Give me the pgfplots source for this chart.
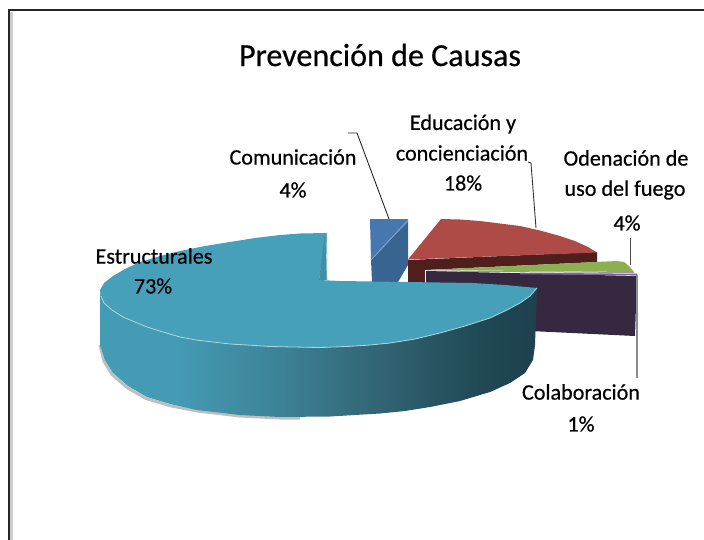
\documentclass[border=0pt]{standalone}
\usepackage{pgfplots}
\pgfplotsset{compat=1.18}
\usepackage{fontspec}
\setmainfont[FakeBold=0.5]{Carlito}
\definecolor{tealtop}{RGB}{70,160,185}
\definecolor{wallA}{RGB}{68,155,180}
\definecolor{wallB}{RGB}{60,130,150}
\definecolor{wallC}{RGB}{50,100,115}
\definecolor{wallD}{RGB}{32,72,85}
\definecolor{wallE}{RGB}{30,65,78}
\definecolor{blueA}{RGB}{70,120,175}
\definecolor{blueB}{RGB}{55,100,145}
\definecolor{blueL}{RGB}{130,165,205}
\definecolor{redA}{RGB}{175,75,70}
\definecolor{redB}{RGB}{80,30,28}
\definecolor{greenA}{RGB}{140,175,80}
\definecolor{purA}{RGB}{125,95,155}
\definecolor{purB}{RGB}{55,40,65}
\definecolor{hl}{RGB}{170,215,225}
\pgfdeclarehorizontalshading{wall}{100bp}{color(0bp)=(wallA); color(25bp)=(wallA); color(33.6bp)=(wallA); color(45.6bp)=(wallB); color(57bp)=(wallC); color(68.5bp)=(wallD); color(75bp)=(wallE); color(100bp)=(wallE)}
\newcommand{\lab}{\fontsize{22.2}{22.2}\selectfont}
\begin{document}
\begin{tikzpicture}
\path[use as bounding box] (0,0) rectangle (704bp,540bp);
\begin{axis}[at={(0,0)}, anchor=south west, scale only axis, width=704bp, height=540bp,
  xmin=0, xmax=704, ymin=0, ymax=540, y dir=reverse, axis lines=none, clip=true]
% frame
\addplot[draw=black!20, line width=2.5bp] coordinates {(11.5,12) (11.5,540)};
\addplot[draw=black!85, line width=2bp] coordinates {(9.3,540) (9.3,9.5) (704,9.5)};
% communication slice
\addplot[draw=none, fill=blueA] coordinates {(370,219) (408,219) (408,222) (371,260)};
\addplot[draw=none, fill=blueB] coordinates {(371,260) (408,222) (408,265) (398,282) (372,282)};
\addplot[draw=blueL, line width=0.8bp] coordinates {(371,260) (408,220)};
% education slice
\addplot[draw=none, fill=redB] coordinates {(408,260) (597,252) (597,262) (425,270) (425,284) (408,284)};
\addplot[draw=none, fill=redA] coordinates {(441,219) (460,219.5) (480,221) (500,223.5) (520,226) (540,230.5) (560,236) (575,241) (588,247) (597,252.5) (408,259.5)};
% fire use slice
\addplot[draw=none, fill=greenA] coordinates {(426,270) (617,261) (624,262) (629,266) (634,272)};
\addplot[draw=black!40, line width=1bp] coordinates {(426,271) (634,272.5)};
% collaboration slice
\addplot[draw=none, fill=purB] coordinates {(426,271) (637,276) (635,336) (530,331) (426,328)};
\addplot[draw=purA, line width=1.6bp] coordinates {(520,273.5) (637,274.5)};
\addplot[draw=white, line width=1bp] coordinates {(425.5,270) (425.5,284)};
% shadow of main slice
\addplot[draw=black!25, line width=3bp] coordinates {(100,345) (104,361) (112,374.5) (127,387.5) (146,398.5) (169,405.5) (197,411) (240,416) (280,418) (300,418)};
% main slice wall
\addplot[draw=none, shading=wall] coordinates {(100,290) (101,296) (104,303) (112,310) (123,317) (135,322) (147,327) (163,332) (180,337) (196,340) (213,342) (230,344) (247,345) (270,346.5) (293,347) (320,347.5) (347,346.5) (370,345) (390,343) (415,339) (440,333) (465,326) (490,318) (507,310) (520,303) (530,296) (537,288) (535,345) (533,360) (525,373) (510,383) (490,392) (460,401) (430,407) (405,411) (380,413.5) (330,416.5) (280,417) (240,415) (197,410) (170,404) (147,397) (128,386) (113,373) (105,360) (100,345)};
% main slice top
\addplot[draw=none, fill=tealtop] coordinates {(326,233) (300,233.5) (280,235) (255,238) (230,242) (205,246) (180,251) (160,256) (140,262) (125,269) (113,276) (104,283) (100,290) (101,296) (104,303) (112,310) (123,317) (135,322) (147,327) (163,332) (180,337) (196,340) (213,342) (230,344) (247,345) (270,346.5) (293,347) (320,347.5) (347,346.5) (370,345) (390,343) (415,339) (440,333) (465,326) (490,318) (507,310) (520,303) (530,296) (537,288) (505,285) (473,283) (440,282.5) (407,282) (373,281.5) (340,281) (319,280)};
\addplot[draw=hl, line width=0.8bp] coordinates {(101,296) (104,303) (112,310) (123,317) (135,322) (147,327) (163,332) (180,337) (196,340) (213,342) (230,344) (247,345) (270,346.5) (293,347) (320,347.5) (347,346.5) (370,345) (390,343) (415,339) (440,333) (465,326) (490,318) (507,310) (520,303) (530,296) (537,288)};
\addplot[draw=none, fill=wallA!92!black] coordinates {(325,233) (327,233) (327,280) (319,280)};
\addplot[draw=hl, line width=0.6bp] coordinates {(326,233) (327,280)};
% leader lines
\addplot[draw=black!85, line width=0.9bp] coordinates {(348,133) (357,133) (389,219)};
\addplot[draw=black!80, line width=0.9bp] coordinates {(528,162) (531,163) (536,228)};
\addplot[draw=black!70, line width=0.9bp] coordinates {(630,238) (630,265)};
\addplot[draw=black!45, line width=1.6bp] coordinates {(637,275) (637,378)};
% text
\node[font=\fontsize{32.2}{32.2}\selectfont] at (axis cs:380,55) {Prevención de Causas};
\node[font=\lab] at (axis cs:293,157) {Comunicación};
\node[font=\lab] at (axis cs:293,190) {4\%};
\node[font=\lab] at (axis cs:463,124) {Educación y};
\node[font=\lab] at (axis cs:462,153) {concienciación};
\node[font=\lab] at (axis cs:463,183) {18\%};
\node[font=\lab] at (axis cs:626,158) {Odenación de};
\node[font=\lab] at (axis cs:625,190) {uso del fuego};
\node[font=\lab] at (axis cs:627,223) {4\%};
\node[font=\lab] at (axis cs:154,256) {Estructurales};
\node[font=\lab] at (axis cs:153,286) {73\%};
\node[font=\lab] at (axis cs:581,392) {Colaboración};
\node[font=\lab] at (axis cs:581,424) {1\%};
\end{axis}
\end{tikzpicture}
\end{document}
